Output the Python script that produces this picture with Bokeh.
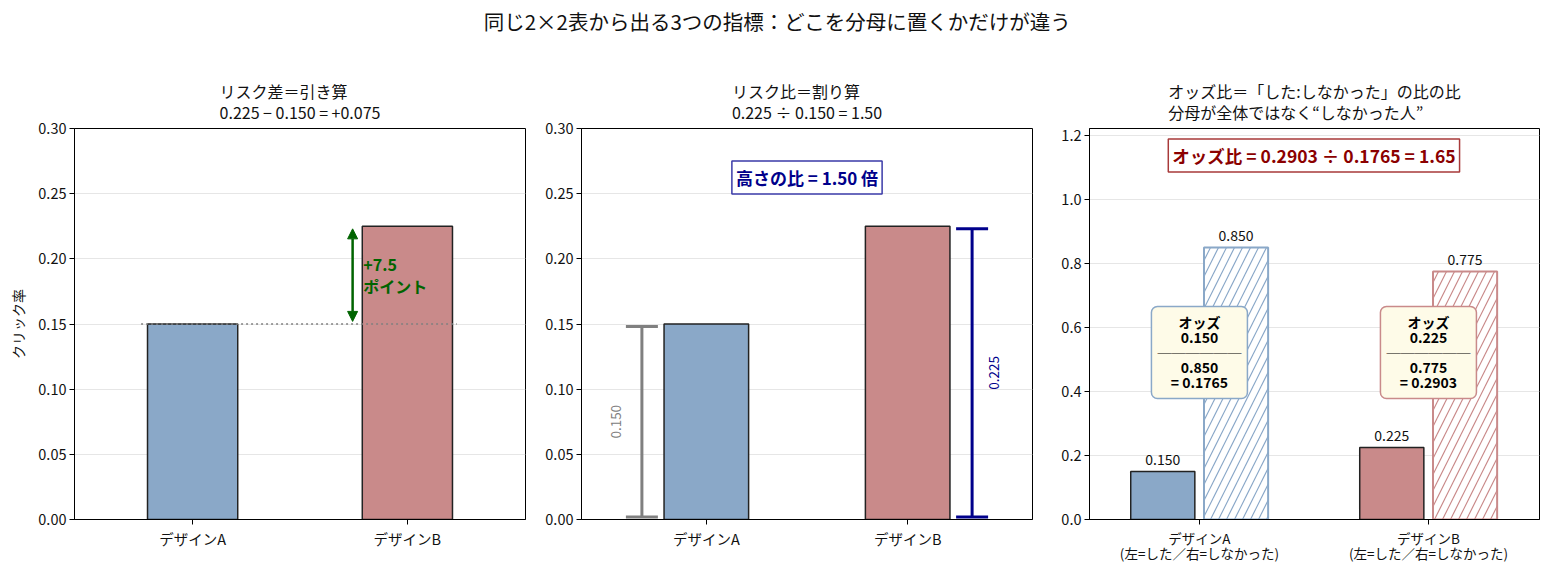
import numpy as np
from bokeh.plotting import figure
from bokeh.models import Range1d, FixedTicker, Label, Arrow, TeeHead, NormalHead, NumeralTickFormatter
from bokeh.layouts import column, row
from bokeh.embed import file_html
from bokeh.resources import INLINE

# data
designs = ["デザインA", "デザインB"]
designs_odds = ["デザインA\n(左=した／右=しなかった)", "デザインB\n(左=した／右=しなかった)"]
clicked = [0.150, 0.225]
not_clicked = [0.850, 0.775]
odds = [0.1765, 0.2903]
risk_diff = 0.075
risk_ratio = 1.50
odds_ratio = 1.65
colors = ["#8aa8c8", "#c98a8a"]

FONT = "Noto Sans CJK JP"
xs = np.arange(len(designs))


def make_fig(width, x_range, y_range, title, left, right):
    p = figure(width=width, height=505, x_range=x_range, y_range=y_range,
               toolbar_location=None, output_backend="svg",
               min_border_left=left, min_border_right=right,
               min_border_top=62, min_border_bottom=52)
    p.title.text = title
    p.title.align = "center"
    p.title.text_font = FONT
    p.title.text_font_size = "16px"
    p.title.text_font_style = "normal"
    p.title.text_color = "#111111"
    p.title.text_line_height = 0.88
    p.title.standoff = 8
    p.outline_line_color = "black"
    p.outline_line_width = 1
    p.outline_line_alpha = 1
    p.xgrid.visible = False
    p.ygrid.grid_line_color = "#e6e6e6"
    for ax in [p.xaxis, p.yaxis]:
        ax.axis_line_color = "black"
        ax.major_tick_line_color = "black"
        ax.major_tick_out = 5
        ax.major_tick_in = 0
        ax.minor_tick_line_color = None
        ax.major_label_text_font = FONT
        ax.major_label_text_font_size = "14.5px"
        ax.major_label_text_color = "#111111"
        ax.major_label_text_line_height = 0.75
        ax.major_label_standoff = 3
    p.xaxis.ticker = FixedTicker(ticks=list(xs))
    return p


# ---- panel 1: risk difference
p1 = make_fig(540, Range1d(-0.55, 1.55), Range1d(0, 0.30),
              "リスク差＝引き算\n{:.3f} − {:.3f} = +{:.3f}".format(clicked[1], clicked[0], risk_diff),
              74, 15)
p1.yaxis.ticker = FixedTicker(ticks=[0, 0.05, 0.10, 0.15, 0.20, 0.25, 0.30])
p1.yaxis.formatter = NumeralTickFormatter(format="0.00")
p1.xaxis.major_label_overrides = {int(i): d for i, d in zip(xs, designs)}
p1.yaxis.axis_label = "クリック率"
p1.yaxis.axis_label_text_font = FONT
p1.yaxis.axis_label_text_font_size = "14px"
p1.yaxis.axis_label_text_font_style = "normal"
p1.yaxis.axis_label_text_color = "#111111"
p1.yaxis.axis_label_standoff = 7

p1.vbar(x=xs, top=clicked, width=0.42, fill_color=colors,
        line_color="#222222", line_width=1.5)
p1.line([xs[0] - 0.24, xs[1] + 0.23], [clicked[0], clicked[0]],
        line_color="gray", line_dash="2 3", line_width=1.5)
gh = dict(size=10, fill_color="darkgreen", line_color="darkgreen")
p1.add_layout(Arrow(x_start=xs[1] - 0.255, y_start=clicked[0] + 0.002,
                    x_end=xs[1] - 0.255, y_end=clicked[1] - 0.002,
                    start=NormalHead(**gh), end=NormalHead(**gh),
                    line_color="darkgreen", line_width=2.5))
p1.add_layout(Label(x=xs[1] - 0.205, y=(clicked[0] + clicked[1]) / 2,
                    text="+{:.1f}\nポイント".format(risk_diff * 100),
                    text_align="left", text_baseline="middle",
                    text_font=FONT, text_font_size="16px", text_font_style="bold",
                    text_color="darkgreen", text_line_height=0.9))

# ---- panel 2: risk ratio
p2 = make_fig(508, Range1d(-0.62, 1.62), Range1d(0, 0.30),
              "リスク比＝割り算\n{:.3f} ÷ {:.3f} = {:.2f}".format(clicked[1], clicked[0], risk_ratio),
              41, 16)
p2.yaxis.ticker = FixedTicker(ticks=[0, 0.05, 0.10, 0.15, 0.20, 0.25, 0.30])
p2.yaxis.formatter = NumeralTickFormatter(format="0.00")
p2.xaxis.major_label_overrides = {int(i): d for i, d in zip(xs, designs)}

p2.vbar(x=xs, top=clicked, width=0.42, fill_color=colors,
        line_color="#222222", line_width=1.5)
bracket_x = [xs[0] - 0.32, xs[1] + 0.32]
bracket_col = ["#808080", "#00008b"]
label_x = [xs[0] - 0.45, xs[1] + 0.43]
for bx, lx, val, col in zip(bracket_x, label_x, clicked, bracket_col):
    th = dict(size=32, line_color=col, line_width=3)
    p2.add_layout(Arrow(x_start=bx, y_start=0.002, x_end=bx, y_end=val - 0.002,
                        start=TeeHead(**th), end=TeeHead(**th),
                        line_color=col, line_width=3))
    p2.add_layout(Label(x=lx, y=val / 2, text="{:.3f}".format(val), angle=np.pi / 2,
                        text_align="center", text_baseline="middle",
                        text_font=FONT, text_font_size="13.5px", text_color=col))
p2.add_layout(Label(x=0.5, y=0.2625, text="高さの比 = {:.2f} 倍".format(risk_ratio),
                    text_align="center", text_baseline="middle",
                    text_font=FONT, text_font_size="17px", text_font_style="bold",
                    text_color="#00008b", background_fill_color="white",
                    border_line_color="#3a3aa8", border_line_width=1.5, padding=4))

# ---- panel 3: odds ratio
p3 = make_fig(501, Range1d(-0.48, 1.485), Range1d(0, 1.222),
              "オッズ比＝「した:しなかった」の比の比\n分母が全体ではなく“しなかった人”",
              41, 10)
p3.yaxis.ticker = FixedTicker(ticks=[0, 0.2, 0.4, 0.6, 0.8, 1.0, 1.2])
p3.yaxis.formatter = NumeralTickFormatter(format="0.0")
p3.xaxis.major_label_overrides = {int(i): d for i, d in zip(xs, designs_odds)}
p3.xaxis.major_label_text_font_size = "13.5px"

left_x = xs - 0.16
right_x = xs + 0.16
p3.vbar(x=left_x, top=clicked, width=0.28, fill_color=colors,
        line_color="#222222", line_width=1.5)
p3.vbar(x=right_x, top=not_clicked, width=0.28, fill_color="white",
        line_color=colors, line_width=2, hatch_pattern="/", hatch_color=colors,
        hatch_weight=1.2, hatch_scale=16)
p3.text(x=list(left_x) + list(right_x), y=clicked + not_clicked,
        text=["{:.3f}".format(v) for v in clicked + not_clicked],
        text_align="center", text_baseline="bottom", y_offset=-7,
        text_font={"value": FONT}, text_font_size="14px", text_color="#111111")
for i in range(len(designs)):
    p3.add_layout(Label(x=xs[i], y=0.522,
                        text="オッズ\n{:.3f}\n──────\n{:.3f}\n= {:.4f}".format(
                            clicked[i], not_clicked[i], odds[i]),
                        text_align="center", text_baseline="middle",
                        text_font=FONT, text_font_size="14px", text_font_style="bold",
                        text_color="black", background_fill_color="#fefbe8",
                        text_line_height=0.75,
                        border_line_color=colors[i], border_line_width=1.5,
                        padding=6, border_radius=6))
p3.add_layout(Label(x=0.5, y=1.1375,
                    text="オッズ比 = {:.4f} ÷ {:.4f} = {:.2f}".format(odds[1], odds[0], odds_ratio),
                    text_align="center", text_baseline="middle",
                    text_font=FONT, text_font_size="17.5px", text_font_style="bold",
                    text_color="#8b0000", background_fill_color="white",
                    border_line_color="#a83a3a", border_line_width=1.5, padding=4))

# ---- suptitle
p0 = figure(width=1549, height=66, x_range=Range1d(0, 1), y_range=Range1d(0, 1),
            toolbar_location=None, output_backend="svg", min_border=0)
p0.axis.visible = False
p0.grid.visible = False
p0.outline_line_color = None
p0.add_layout(Label(x=777, y=46, x_units="screen", y_units="screen",
                    text="同じ2×2表から出る3つの指標：どこを分母に置くかだけが違う",
                    text_align="center", text_baseline="middle",
                    text_font=FONT, text_font_size="20.5px", text_color="#111111"))

layout = column(p0, row(p1, p2, p3))
open("out.html", "w").write(file_html(layout, INLINE))
